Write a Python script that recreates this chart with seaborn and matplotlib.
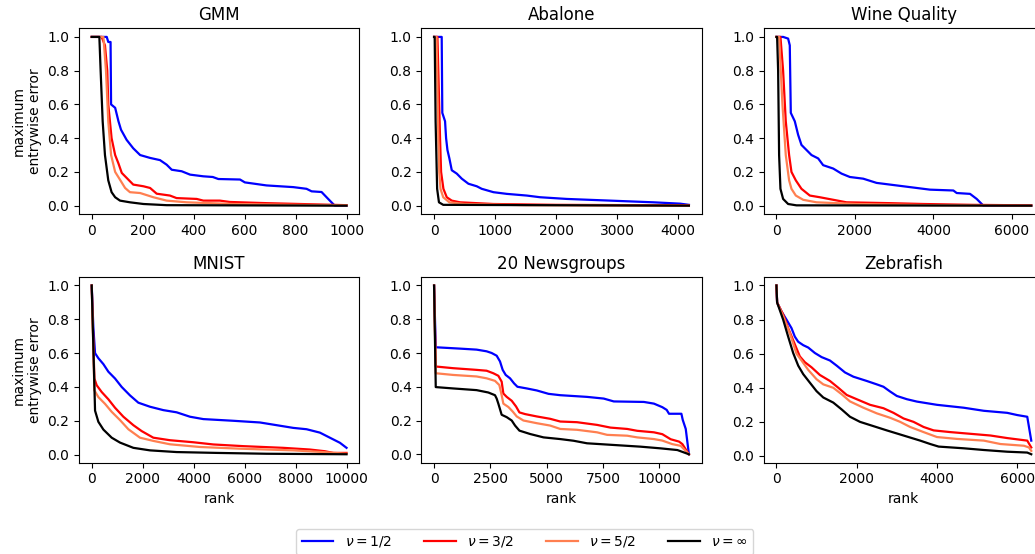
import pandas as pd
import matplotlib
matplotlib.use("Agg")
import matplotlib.pyplot as plt
import seaborn as sns

# (rank, maximum entrywise error) points
gmm_12 = [(0, 1.0), (59, 1.0), (65, 0.97), (74, 0.97), (76, 0.6), (92, 0.58), (105, 0.5), (115, 0.45),
          (137, 0.39), (163, 0.34), (190, 0.30), (229, 0.283), (268, 0.27), (294, 0.243), (314, 0.213),
          (353, 0.204), (386, 0.184), (438, 0.174), (475, 0.17), (497, 0.158), (582, 0.155), (601, 0.138),
          (686, 0.12), (791, 0.11), (843, 0.10), (863, 0.085), (902, 0.081), (928, 0.04), (954, 0.0), (1000, 0.0)]
gmm_32 = [(0, 1.0), (39, 1.0), (52, 0.95), (61, 0.8), (65, 0.6), (78, 0.4), (92, 0.3), (105, 0.25),
          (118, 0.194), (144, 0.154), (163, 0.125), (203, 0.115), (229, 0.105), (255, 0.071), (307, 0.06),
          (333, 0.045), (412, 0.04), (438, 0.03), (503, 0.03), (542, 0.022), (686, 0.015), (817, 0.01), (1000, 0.003)]
gmm_52 = [(0, 1.0), (46, 1.0), (56, 0.8), (65, 0.5), (76, 0.3), (92, 0.2), (111, 0.154), (131, 0.105),
          (150, 0.08), (190, 0.075), (242, 0.05), (294, 0.03), (373, 0.02), (556, 0.01), (800, 0.005), (1000, 0.002)]
gmm_inf = [(0, 1.0), (30, 1.0), (35, 0.8), (43, 0.5), (52, 0.3), (65, 0.15), (78, 0.08), (92, 0.05),
           (111, 0.03), (150, 0.02), (203, 0.01), (294, 0.003), (1000, 0.0)]

abalone_12 = [(0, 1.0), (125, 1.0), (135, 0.55), (180, 0.5), (197, 0.4), (219, 0.33), (251, 0.28), (290, 0.21),
              (372, 0.19), (454, 0.16), (563, 0.13), (700, 0.115), (781, 0.10), (973, 0.08), (1191, 0.07),
              (1519, 0.06), (1738, 0.05), (2175, 0.04), (2885, 0.03), (3596, 0.02), (4033, 0.012), (4177, 0.005)]
abalone_32 = [(0, 1.0), (55, 1.0), (98, 0.4), (115, 0.2), (153, 0.1), (208, 0.05), (290, 0.03), (426, 0.02),
              (973, 0.01), (2000, 0.005), (4177, 0.002)]
abalone_52 = [(0, 1.0), (40, 1.0), (70, 0.4), (85, 0.2), (105, 0.1), (150, 0.05), (250, 0.02), (500, 0.01),
              (1500, 0.003), (4177, 0.0)]
abalone_inf = [(0, 1.0), (10, 1.0), (25, 0.5), (50, 0.1), (80, 0.02), (150, 0.005), (4177, 0.0)]

wine_12 = [(0, 1.0), (170, 1.0), (298, 0.99), (340, 0.95), (366, 0.55), (468, 0.5), (553, 0.42), (638, 0.36),
           (766, 0.33), (894, 0.30), (1064, 0.28), (1191, 0.24), (1447, 0.22), (1660, 0.19), (1872, 0.17),
           (2213, 0.16), (2553, 0.135), (3064, 0.12), (3404, 0.11), (3915, 0.095), (4511, 0.09), (4596, 0.075),
           (4936, 0.07), (5106, 0.04), (5277, 0.0), (6497, 0.0)]
wine_32 = [(0, 1.0), (102, 1.0), (170, 0.8), (238, 0.5), (323, 0.3), (383, 0.2), (494, 0.15), (638, 0.1),
           (851, 0.06), (1106, 0.05), (1447, 0.035), (1787, 0.02), (2894, 0.015), (3745, 0.01), (5000, 0.005),
           (6497, 0.002)]
wine_52 = [(0, 1.0), (68, 1.0), (153, 0.6), (238, 0.3), (323, 0.15), (383, 0.1), (494, 0.06), (681, 0.035),
           (1021, 0.02), (2043, 0.01), (4000, 0.003), (6497, 0.0)]
wine_inf = [(0, 1.0), (17, 1.0), (43, 0.8), (68, 0.3), (102, 0.1), (170, 0.04), (298, 0.01), (510, 0.002),
            (6497, 0.0)]

mnist_12 = [(0, 1.0), (65, 0.75), (131, 0.6), (261, 0.57), (458, 0.535), (654, 0.49), (915, 0.45), (1176, 0.40),
            (1503, 0.35), (1830, 0.307), (2288, 0.283), (2810, 0.263), (3333, 0.25), (3856, 0.224), (4379, 0.21),
            (5556, 0.2), (6601, 0.19), (7255, 0.174), (7908, 0.158), (8431, 0.15), (8954, 0.13), (9346, 0.1),
            (9739, 0.07), (10000, 0.04)]
mnist_32 = [(0, 1.0), (105, 0.45), (196, 0.41), (392, 0.37), (654, 0.327), (915, 0.277), (1242, 0.224),
            (1634, 0.174), (1961, 0.139), (2418, 0.1), (3072, 0.085), (3987, 0.073), (4771, 0.06), (5948, 0.05),
            (7516, 0.04), (8562, 0.03), (9150, 0.02), (9477, 0.01), (10000, 0.01)]
mnist_52 = [(0, 1.0), (105, 0.38), (261, 0.34), (523, 0.3), (784, 0.253), (1111, 0.204), (1438, 0.15),
            (1895, 0.1), (2418, 0.081), (3072, 0.061), (4248, 0.045), (5817, 0.035), (7908, 0.025),
            (9085, 0.015), (10000, 0.005)]
mnist_inf = [(0, 1.0), (131, 0.26), (261, 0.194), (458, 0.148), (784, 0.1), (1111, 0.071), (1634, 0.04),
             (2288, 0.025), (3333, 0.015), (4902, 0.01), (6863, 0.005), (10000, 0.002)]

news_12 = [(0, 1.0), (74, 0.634), (1144, 0.626), (1887, 0.62), (2333, 0.61), (2556, 0.6), (2779, 0.584),
           (2927, 0.55), (3046, 0.5), (3180, 0.47), (3373, 0.45), (3551, 0.42), (3700, 0.40), (4116, 0.39),
           (4562, 0.378), (5082, 0.358), (5602, 0.35), (6790, 0.34), (7533, 0.33), (7979, 0.313), (9316, 0.31),
           (9762, 0.30), (10134, 0.279), (10327, 0.263), (10431, 0.24), (10981, 0.24), (11040, 0.204),
           (11174, 0.15), (11314, 0.0)]
news_32 = [(0, 1.0), (74, 0.52), (847, 0.51), (1887, 0.5), (2333, 0.495), (2630, 0.48), (2853, 0.465),
           (3001, 0.43), (3076, 0.36), (3224, 0.34), (3447, 0.317), (3640, 0.283), (3789, 0.248), (4042, 0.238),
           (4562, 0.224), (5156, 0.21), (5602, 0.194), (6345, 0.19), (7236, 0.174), (7831, 0.158), (8574, 0.15),
           (9019, 0.139), (9762, 0.13), (10134, 0.119), (10505, 0.089), (10877, 0.075), (11025, 0.06),
           (11314, 0.0)]
news_52 = [(0, 1.0), (74, 0.48), (847, 0.47), (1887, 0.461), (2333, 0.45), (2704, 0.435), (2898, 0.41),
           (3001, 0.35), (3076, 0.30), (3299, 0.28), (3492, 0.253), (3670, 0.224), (3967, 0.2), (4562, 0.184),
           (5156, 0.17), (5602, 0.15), (6345, 0.145), (7236, 0.13), (7682, 0.115), (8574, 0.11), (9019, 0.1),
           (9762, 0.09), (10134, 0.081), (10579, 0.06), (10951, 0.05), (11314, 0.0)]
news_inf = [(0, 1.0), (74, 0.398), (847, 0.39), (1887, 0.38), (2407, 0.366), (2704, 0.35), (2779, 0.33),
            (2853, 0.3), (3001, 0.234), (3224, 0.22), (3447, 0.2), (3596, 0.17), (3789, 0.14), (4265, 0.12),
            (4859, 0.1), (5602, 0.09), (6196, 0.08), (6790, 0.065), (7979, 0.055), (9168, 0.045),
            (10059, 0.035), (10802, 0.025), (11314, 0.0)]

zebra_12 = [(0, 1.0), (17, 0.9), (125, 0.848), (250, 0.8), (375, 0.75), (458, 0.7), (542, 0.67), (667, 0.65),
            (792, 0.636), (958, 0.604), (1125, 0.58), (1333, 0.56), (1500, 0.53), (1708, 0.49), (1917, 0.465),
            (2250, 0.44), (2500, 0.42), (2667, 0.406), (2833, 0.378), (3000, 0.352), (3250, 0.333),
            (3500, 0.319), (4000, 0.30), (4667, 0.283), (5167, 0.265), (5750, 0.253), (6000, 0.24),
            (6250, 0.23), (6350, 0.09)]
zebra_32 = [(0, 1.0), (17, 0.9), (167, 0.83), (292, 0.75), (458, 0.655), (583, 0.584), (708, 0.55), (875, 0.52),
            (1083, 0.475), (1333, 0.44), (1542, 0.40), (1750, 0.358), (2000, 0.333), (2333, 0.30), (2667, 0.28),
            (2917, 0.253), (3167, 0.22), (3417, 0.2), (3667, 0.17), (3917, 0.15), (4333, 0.14), (4833, 0.13),
            (5333, 0.12), (5750, 0.105), (6250, 0.09), (6350, 0.05)]
zebra_52 = [(0, 1.0), (17, 0.9), (167, 0.82), (333, 0.72), (500, 0.6), (625, 0.56), (792, 0.505), (1000, 0.45),
            (1167, 0.42), (1417, 0.4), (1625, 0.362), (1833, 0.32), (2167, 0.283), (2500, 0.25), (2833, 0.224),
            (3083, 0.2), (3333, 0.17), (3667, 0.14), (4000, 0.111), (4500, 0.1), (5167, 0.09), (5583, 0.07),
            (6167, 0.06), (6292, 0.05), (6350, 0.03)]
zebra_inf = [(0, 1.0), (17, 0.9), (167, 0.8), (292, 0.7), (417, 0.604), (542, 0.53), (667, 0.48), (833, 0.43),
             (1000, 0.38), (1167, 0.343), (1417, 0.313), (1625, 0.273), (1833, 0.23), (2083, 0.2), (2417, 0.175),
             (2750, 0.15), (3167, 0.12), (3583, 0.09), (3833, 0.07), (4042, 0.055), (4667, 0.045),
             (5167, 0.035), (5750, 0.025), (6250, 0.02), (6350, 0.01)]

titles = ["GMM", "Abalone", "Wine Quality", "MNIST", "20 Newsgroups", "Zebrafish"]
nu_labels = [r"$\nu = 1/2$", r"$\nu = 3/2$", r"$\nu = 5/2$", r"$\nu = \infty$"]
colors = ["blue", "red", "coral", "black"]

panels = [
    [gmm_12, gmm_32, gmm_52, gmm_inf],
    [abalone_12, abalone_32, abalone_52, abalone_inf],
    [wine_12, wine_32, wine_52, wine_inf],
    [mnist_12, mnist_32, mnist_52, mnist_inf],
    [news_12, news_32, news_52, news_inf],
    [zebra_12, zebra_32, zebra_52, zebra_inf],
]

rows = []
for title, series in zip(titles, panels):
    for lab, pts in zip(nu_labels, series):
        for r, e in pts:
            rows.append({"dataset": title, "nu": lab, "rank": r, "error": e})
df = pd.DataFrame(rows)

fig, axes = plt.subplots(2, 3, figsize=(10.35, 5.54), dpi=100,
                         gridspec_kw=dict(left=0.0763, right=1.0087, top=0.9486, bottom=0.1648,
                                          wspace=0.2214, hspace=0.339))
palette = dict(zip(nu_labels, colors))

for ax, title in zip(axes.flat, titles):
    sub = df[df["dataset"] == title]
    sns.lineplot(data=sub, x="rank", y="error", hue="nu", hue_order=nu_labels, palette=palette,
                 estimator=None, sort=False, units="nu", lw=1.6, ax=ax, legend=(title == "GMM"))
    ax.set_title(title, fontsize=12)
    ax.set_xlabel("")
    ax.set_ylabel("")

for ax in axes[:, 0]:
    ax.set_ylabel("maximum\nentrywise error")
for ax in axes[1, :]:
    ax.set_xlabel("rank")

handles, labels = axes[0, 0].get_legend_handles_labels()
axes[0, 0].get_legend().remove()
fig.legend(handles, labels, loc="upper center", bbox_to_anchor=(0.507, 0.058), ncol=4,
           fontsize=10, handlelength=2.3, columnspacing=2.3)

fig.savefig("out.png", dpi=100)
